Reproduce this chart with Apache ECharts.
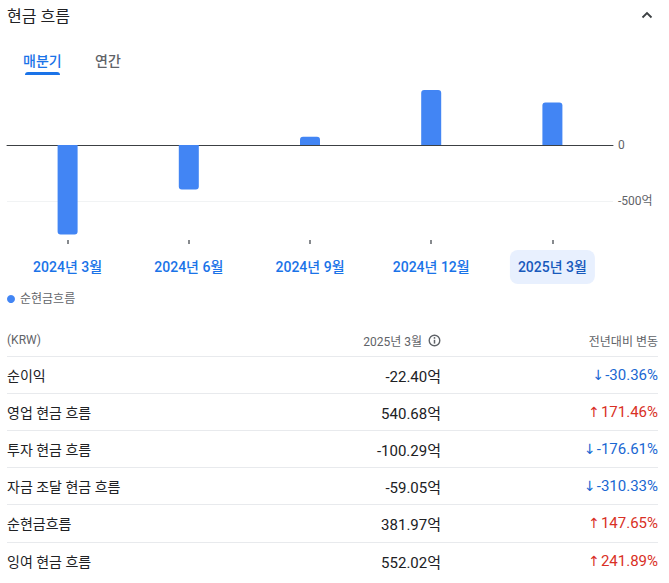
<!DOCTYPE html>
<html lang="ko">
<head>
<meta charset="utf-8">
<script src="https://cdn.jsdelivr.net/npm/echarts@6/dist/echarts.min.js"></script>
<style>
  html, body { margin: 0; padding: 0; background: #fff; }
  body { width: 669px; height: 583px; position: relative; overflow: hidden;
         font-family: Roboto, "Noto Sans CJK KR", sans-serif; color: #202124; }
  #chart { position: absolute; left: 0; top: 0; width: 669px; height: 583px; }
  .abs { position: absolute; white-space: nowrap; }
  .vc { transform: translateY(-50%); }
  .title { left: 7px; top: 15px; font-size: 16px; color: #202124; }
  .tab { top: 60px; font-size: 14px; font-weight: 500; }
  .tab.on { left: 23px; color: #1a73e8; }
  .tab.off { left: 95px; color: #5f6368; }
  .uline { left: 25px; top: 72px; width: 35px; height: 3px; background: #1a73e8; border-radius: 3px 3px 0 0; }
  .hdr { font-size: 12px; color: #5f6368; }
  .sep { left: 7px; width: 651px; height: 1px; background: #e8eaed; }
  .lbl { left: 7px; font-size: 14px; color: #202124; }
  .val { font-size: 15px; color: #202124; text-align: right; }
  .chg { font-size: 15px; text-align: right; }
  .arr { font-family: "DejaVu Sans", sans-serif; font-size: 14px; margin-right: 1px; }
  .up { color: #d93025; }
  .down { color: #1967d2; }
</style>
</head>
<body>
<div id="chart"></div>
<div id="overlay"></div>
<script>
// ---- chart data ----
const categories = ['2024년 3월', '2024년 6월', '2024년 9월', '2024년 12월', '2025년 3월'];
const netCashFlow = [-800, -397, 75, 493, 381.97];
const seriesName = '순현금흐름';
const yLabelValues = [0, -500];

// ---- table data ----
const tableHeaders = ['(KRW)', '2025년 3월', '전년대비 변동'];
const rowLabels = ['순이익', '영업 현금 흐름', '투자 현금 흐름', '자금 조달 현금 흐름', '순현금흐름', '잉여 현금 흐름'];
const rowValues = [-22.40, 540.68, -100.29, -59.05, 381.97, 552.02];
const rowChanges = [-30.36, 171.46, -176.61, -310.33, 147.65, 241.89];

// ---- HTML parts: header, tabs, table ----
const ov = document.getElementById('overlay');
function add(html) { ov.insertAdjacentHTML('beforeend', html); }
add('<div class="abs vc title">현금 흐름</div>');
add('<svg class="abs" style="left:640px;top:10px" width="14" height="10"><polyline points="2.5,7.5 7,3 11.5,7.5" fill="none" stroke="#3c4043" stroke-width="1.8"/></svg>');
add('<div class="abs vc tab on">매분기</div>');
add('<div class="abs vc tab off">연간</div>');
add('<div class="abs uline"></div>');

// table header
add('<div class="abs vc hdr" style="left:7px;top:340px">' + tableHeaders[0] + '</div>');
add('<div class="abs vc hdr" style="right:' + (669 - 422) + 'px;top:340px">' + tableHeaders[1] + '</div>');
add('<svg class="abs" style="left:428px;top:334px" width="13" height="13"><circle cx="6.5" cy="6.5" r="5.3" fill="none" stroke="#5f6368" stroke-width="1.4"/><line x1="6.5" y1="5.8" x2="6.5" y2="9.6" stroke="#5f6368" stroke-width="1.5"/><circle cx="6.5" cy="3.9" r="0.9" fill="#5f6368"/></svg>');
add('<div class="abs vc hdr" style="right:' + (669 - 658) + 'px;top:340px">' + tableHeaders[2] + '</div>');

const rowTop = 356, rowH = 37.1;
rowLabels.forEach((lab, i) => {
  const y0 = rowTop + i * rowH;
  const cy = y0 + rowH / 2 + 0.5;
  add('<div class="abs sep" style="top:' + Math.round(y0) + 'px"></div>');
  add('<div class="abs vc lbl" style="top:' + cy + 'px">' + lab + '</div>');
  add('<div class="abs vc val" style="right:' + (669 - 441) + 'px;top:' + cy + 'px">' + rowValues[i].toFixed(2) + '억</div>');
  const c = rowChanges[i];
  const cls = c < 0 ? 'down' : 'up';
  const arrow = c < 0 ? '↓' : '↑';
  add('<div class="abs vc chg ' + cls + '" style="right:' + (669 - 658) + 'px;top:' + cy + 'px"><span class="arr">' + arrow + '</span>' + c.toFixed(2) + '%</div>');
});

// ---- ECharts ----
const chart = echarts.init(document.getElementById('chart'), null, { renderer: 'svg' });
const lastIdx = categories.length - 1;
const fontFam = 'Roboto, "Noto Sans CJK KR", sans-serif';

chart.setOption({
  animation: false,
  textStyle: { fontFamily: fontFam },
  legend: {
    show: true,
    left: 7, top: 293, padding: 0,
    icon: 'circle', itemWidth: 8, itemHeight: 8, itemGap: 10,
    textStyle: { color: '#5f6368', fontSize: 12, fontFamily: fontFam },
    data: [seriesName]
  },
  grid: { left: 7, right: 56, top: 89.3, bottom: 343, containLabel: false },
  xAxis: [
    {
      type: 'category', data: categories, position: 'bottom',
      axisLine: { show: true, onZero: true, lineStyle: { color: '#3c4043', width: 1 } },
      axisTick: { show: false }, axisLabel: { show: false }, splitLine: { show: false }
    },
    {
      type: 'category', data: categories, position: 'bottom',
      axisLine: { show: false, onZero: false },
      axisTick: { show: true, alignWithLabel: true, length: 4, lineStyle: { color: '#5f6368', width: 1.5 } },
      axisLabel: {
        margin: 19,
        formatter: (v, i) => (i === lastIdx ? '{sel|' + v + '}' : '{n|' + v + '}'),
        rich: {
          n: { fontSize: 14, fontWeight: 500, color: '#1a73e8', padding: [10, 8], lineHeight: 16, fontFamily: fontFam },
          sel: { fontSize: 14, fontWeight: 500, color: '#185abc', padding: [10, 8], lineHeight: 16,
                 backgroundColor: '#e8f0fe', borderRadius: 8, fontFamily: fontFam }
        }
      },
      splitLine: { show: false }
    }
  ],
  yAxis: {
    type: 'value', position: 'right', min: -850, max: 500,
    axisLine: { show: false },
    axisTick: { show: false, customValues: yLabelValues },
    axisLabel: {
      customValues: yLabelValues, margin: 5, color: '#5f6368', fontSize: 12,
      formatter: v => (v === 0 ? '0' : v + '억')
    },
    splitLine: { show: false }
  },
  series: [{
    name: seriesName, type: 'bar', xAxisIndex: 0, barWidth: 20,
    itemStyle: { color: '#4285f4' },
    data: netCashFlow.map(v => ({ value: v, itemStyle: { borderRadius: v < 0 ? [0, 0, 3, 3] : [3, 3, 0, 0] } })),
    markLine: {
      silent: true, symbol: 'none', z: 1,
      label: { show: false },
      lineStyle: { color: '#f1f3f4', type: 'solid', width: 1 },
      data: [{ yAxis: yLabelValues[1] }]
    }
  }]
});
</script>
</body>
</html>
